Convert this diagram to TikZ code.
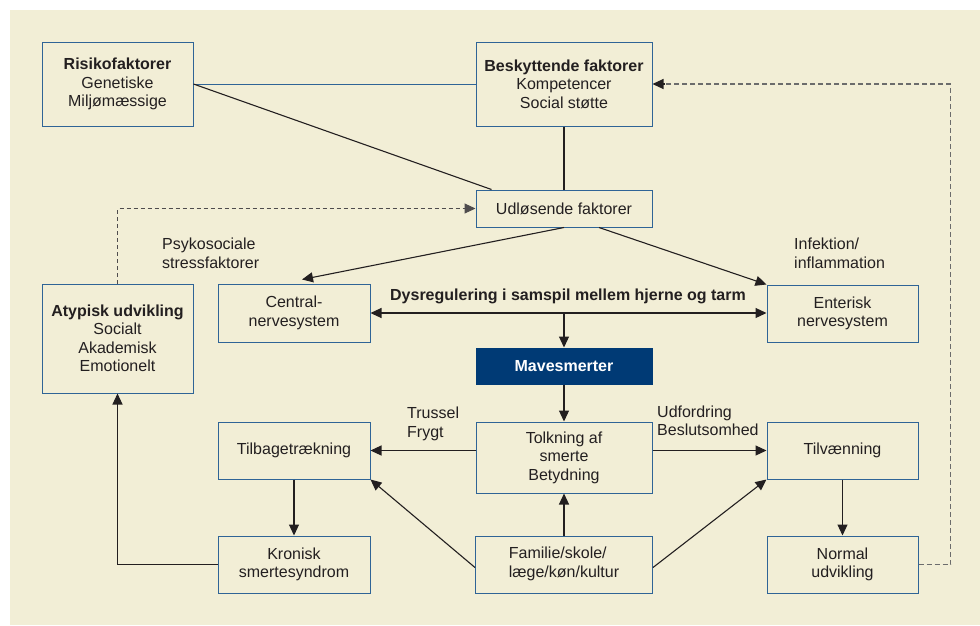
\documentclass[tikz,border=0pt]{standalone}
\usepackage{fontspec}
\setmainfont{Liberation Sans}
\usetikzlibrary{arrows.meta,calc}
\definecolor{beige}{HTML}{F2EED6}
\definecolor{boxblue}{HTML}{2F6496}
\definecolor{navy}{HTML}{003A75}
\definecolor{ink}{HTML}{231F20}
\tikzset{
  fbox/.style={draw=boxblue, line width=1pt, fill=beige, text=ink, align=center, inner sep=0pt,
    font=\fontsize{16}{18.5}\selectfont},
  lbl/.style={text=ink, align=left, inner sep=0pt, anchor=west, font=\fontsize{16}{18.5}\selectfont},
  conn/.style={draw=ink, line width=1.1pt},
  arr/.style={conn, -{Triangle[length=11pt,width=10pt]}},
  darr/.style={conn, {Triangle[length=11pt,width=10pt]}-{Triangle[length=11pt,width=10pt]}},
  dash1/.style={draw=ink!80, line width=1pt, dash pattern=on 4pt off 3pt},
  dash2/.style={draw=gray!85!black, line width=1.2pt, dash pattern=on 5pt off 3pt}
}
\begin{document}
\begin{tikzpicture}[x=1pt,y=-1pt]
\useasboundingbox (0,0) rectangle (980,625);
\fill[beige] (10,10) rectangle (980,625);

\node[fbox, minimum width=151pt, minimum height=84pt] (risk) at (117.5,84) {\textbf{Risikofaktorer}\\Genetiske\\Miljømæssige};
\node[fbox, minimum width=176pt, minimum height=84pt] (besk) at (564,84) {\textbf{Beskyttende faktorer}\\Kompetencer\\Social støtte};
\node[fbox, minimum width=176pt, minimum height=37pt] (udl) at (564,208.5) {Udløsende faktorer};
\node[fbox, minimum width=151pt, minimum height=109pt] (atyp) at (117.5,338.5) {\textbf{Atypisk udvikling}\\Socialt\\Akademisk\\Emotionelt};
\node[fbox, minimum width=152pt, minimum height=58pt] (cent) at (294,313) {Central-\\nervesystem};
\node[fbox, minimum width=151pt, minimum height=57pt] (ent) at (842.5,313.5) {Enterisk\\nervesystem};
\node[fbox, draw=navy, fill=navy, text=white, minimum width=176pt, minimum height=36pt] (mave) at (564,366) {\textbf{Mavesmerter}};
\node[fbox, minimum width=176pt, minimum height=71pt] (tolk) at (564,457.5) {Tolkning af\\smerte\\Betydning};
\node[fbox, minimum width=152pt, minimum height=57pt] (tilb) at (294,450.5) {Tilbagetrækning};
\node[fbox, minimum width=151pt, minimum height=57pt] (tilv) at (842.5,450.5) {Tilvænning};
\node[fbox, minimum width=152pt, minimum height=57pt] (kron) at (294,564.5) {Kronisk\\smertesyndrom};
\node[fbox, minimum width=177pt, minimum height=57pt] (fam) at (564,564.5) {\begin{tabular}{@{}l@{}}Familie/skole/\\læge/køn/kultur\end{tabular}};
\node[fbox, minimum width=151pt, minimum height=57pt] (norm) at (842.5,564.5) {Normal\\udvikling};

% labels
\node[lbl] (psy) at (162,253.5) {Psykosociale\\stressfaktorer};
\node[lbl] (inf) at (794,253.5) {Infektion/\\inflammation};
\node[lbl] (tru) at (407,424) {Trussel\\Frygt};
\node[lbl] (udf) at (657,421) {Udfordring\\Beslutsomhed};
\node[text=ink, inner sep=0pt, font=\fontsize{16}{18.5}\selectfont\bfseries] (dys) at (568,296) {Dysregulering i samspil mellem hjerne og tarm};

% connectors
\draw[draw=boxblue, line width=1pt] (risk.east) -- (besk.west);
\draw[conn] (risk.east) -- ([xshift=16pt]udl.north west);
\draw[conn] (besk.south) -- (besk.south |- udl.north);
\draw[dash1, -{Triangle[length=11pt,width=10pt]}] (atyp.north) |- (udl.west);
\draw[arr] (udl.south) -- ([xshift=8pt,yshift=4pt]cent.north);
\draw[arr] ([xshift=35pt]udl.south) -- (ent.north west);
\draw[darr] (cent.east) -- (cent.east -| ent.west);
\coordinate (mid) at (mave.north |- cent.east);
\draw[arr] (mid) -- (mave.north);
\draw[arr] (mave.south) -- (tolk.north);
\draw[arr] (tolk.west |- tilb.east) -- (tilb.east);
\draw[arr] (tolk.east |- tilv.west) -- (tilv.west);
\draw[arr] (tilb.south) -- (kron.north);
\draw[arr] (kron.west) -| (atyp.south);
\draw[arr] (fam.north) -- (tolk.south);
\draw[arr] ([yshift=-3pt]fam.west) -- (tilb.south east);
\draw[arr] ([yshift=-3pt]fam.east) -- (tilv.south west);
\draw[arr] (tilv.south) -- (norm.north);
\coordinate (rc) at ([xshift=32pt]norm.east);
\draw[dash2] (norm.east) -- (rc) -- (rc |- besk.east) -- ([xshift=10pt]besk.east);
\draw[arr] ([xshift=12pt]besk.east) -- (besk.east);
\end{tikzpicture}
\end{document}
